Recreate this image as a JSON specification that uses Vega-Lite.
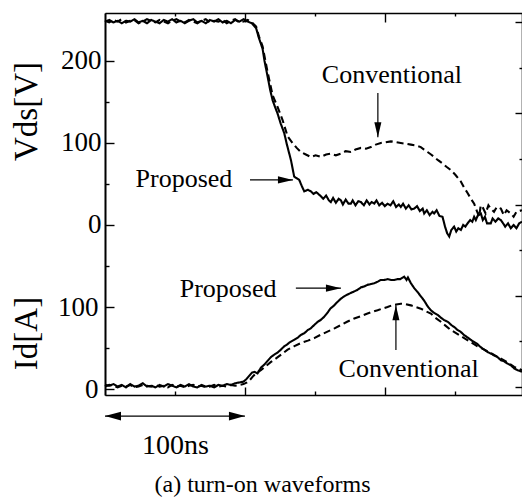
{
  "$schema": "https://vega.github.io/schema/vega-lite/v6.json",
  "width": 417,
  "height": 382,
  "autosize": {"type": "none"},
  "padding": {"left": 105, "top": 13, "right": 0, "bottom": 102},
  "background": "white",
  "config": {
    "view": {"stroke": null},
    "font": "Liberation Serif",
    "axis": {
      "grid": false,
      "domainColor": "#000",
      "domainWidth": 1.6,
      "tickColor": "#000",
      "tickWidth": 1.4,
      "labelColor": "#000",
      "titleColor": "#000",
      "labelFont": "Liberation Serif",
      "titleFont": "Liberation Serif",
      "labelFontSize": 27,
      "titleFontWeight": "normal"
    }
  },
  "title": {
    "text": "(a) turn-on waveforms",
    "orient": "bottom",
    "anchor": "middle",
    "frame": "group",
    "dx": -51,
    "offset": 14,
    "font": "Liberation Serif",
    "fontSize": 24,
    "fontWeight": "normal",
    "color": "#000"
  },
  "datasets": {
    "vds": [
      {"s":"Proposed","t":0,"v":248},{"s":"Proposed","t":3,"v":250},{"s":"Proposed","t":6,"v":247},{"s":"Proposed","t":9,"v":249},{"s":"Proposed","t":12,"v":246},{"s":"Proposed","t":15,"v":249},{"s":"Proposed","t":18,"v":248},{"s":"Proposed","t":21,"v":251},{"s":"Proposed","t":24,"v":247},{"s":"Proposed","t":27,"v":249},{"s":"Proposed","t":30,"v":246},{"s":"Proposed","t":33,"v":250},{"s":"Proposed","t":36,"v":248},{"s":"Proposed","t":39,"v":246},{"s":"Proposed","t":42,"v":250},{"s":"Proposed","t":45,"v":248},{"s":"Proposed","t":48,"v":251},{"s":"Proposed","t":51,"v":247},{"s":"Proposed","t":54,"v":249},{"s":"Proposed","t":57,"v":246},{"s":"Proposed","t":60,"v":249},{"s":"Proposed","t":63,"v":251},{"s":"Proposed","t":66,"v":247},{"s":"Proposed","t":69,"v":249},{"s":"Proposed","t":72,"v":246},{"s":"Proposed","t":75,"v":250},{"s":"Proposed","t":78,"v":248},{"s":"Proposed","t":81,"v":251},{"s":"Proposed","t":84,"v":247},{"s":"Proposed","t":87,"v":249},{"s":"Proposed","t":90,"v":246},{"s":"Proposed","t":93,"v":250},{"s":"Proposed","t":96,"v":248},{"s":"Proposed","t":99,"v":251},{"s":"Proposed","t":102,"v":248},{"s":"Proposed","t":105,"v":246},
      {"s":"Proposed","t":108,"v":240},{"s":"Proposed","t":110,"v":228},{"s":"Proposed","t":112.6,"v":215},{"s":"Proposed","t":114,"v":200},{"s":"Proposed","t":116.2,"v":181},{"s":"Proposed","t":118,"v":165},{"s":"Proposed","t":119.8,"v":152},{"s":"Proposed","t":121.5,"v":144},{"s":"Proposed","t":123.3,"v":136},{"s":"Proposed","t":125.5,"v":124},{"s":"Proposed","t":128.1,"v":112},{"s":"Proposed","t":130,"v":98},{"s":"Proposed","t":132.9,"v":79},{"s":"Proposed","t":135.2,"v":59},{"s":"Proposed","t":137,"v":57},{"s":"Proposed","t":138.8,"v":55},{"s":"Proposed","t":140.5,"v":48},{"s":"Proposed","t":142.4,"v":41},{"s":"Proposed","t":145,"v":43},{"s":"Proposed","t":147.1,"v":41},{"s":"Proposed","t":149,"v":38},{"s":"Proposed","t":151,"v":40},{"s":"Proposed","t":154.3,"v":35},{"s":"Proposed","t":156,"v":32},{"s":"Proposed","t":158,"v":36},{"s":"Proposed","t":160,"v":30},{"s":"Proposed","t":161.4,"v":28},{"s":"Proposed","t":163,"v":33},{"s":"Proposed","t":165,"v":27},{"s":"Proposed","t":167,"v":32},{"s":"Proposed","t":168.6,"v":30},{"s":"Proposed","t":170,"v":25},{"s":"Proposed","t":172,"v":31},{"s":"Proposed","t":174,"v":26},{"s":"Proposed","t":175.7,"v":26},{"s":"Proposed","t":177,"v":30},{"s":"Proposed","t":179,"v":24},{"s":"Proposed","t":181,"v":29},{"s":"Proposed","t":182.9,"v":28},{"s":"Proposed","t":185,"v":24},{"s":"Proposed","t":187,"v":30},{"s":"Proposed","t":189,"v":25},{"s":"Proposed","t":190.5,"v":28},{"s":"Proposed","t":192.4,"v":26},{"s":"Proposed","t":194,"v":30},{"s":"Proposed","t":196,"v":24},{"s":"Proposed","t":198,"v":27},{"s":"Proposed","t":200,"v":23},{"s":"Proposed","t":201.9,"v":26},{"s":"Proposed","t":204,"v":24},{"s":"Proposed","t":206,"v":29},{"s":"Proposed","t":208,"v":22},{"s":"Proposed","t":210,"v":25},{"s":"Proposed","t":211.4,"v":22},{"s":"Proposed","t":213,"v":26},{"s":"Proposed","t":215,"v":20},{"s":"Proposed","t":217,"v":24},{"s":"Proposed","t":219,"v":19},{"s":"Proposed","t":221,"v":20},{"s":"Proposed","t":223,"v":23},{"s":"Proposed","t":225,"v":17},{"s":"Proposed","t":227,"v":20},{"s":"Proposed","t":228.1,"v":14},{"s":"Proposed","t":230,"v":18},{"s":"Proposed","t":232,"v":12},{"s":"Proposed","t":234,"v":16},{"s":"Proposed","t":235.2,"v":14},{"s":"Proposed","t":237,"v":18},{"s":"Proposed","t":239,"v":11},{"s":"Proposed","t":241.2,"v":10},{"s":"Proposed","t":243,"v":-2},{"s":"Proposed","t":244.5,"v":-10},{"s":"Proposed","t":246,"v":-14},{"s":"Proposed","t":247.5,"v":-6},{"s":"Proposed","t":249.5,"v":-2},{"s":"Proposed","t":251,"v":-8},{"s":"Proposed","t":252.5,"v":-4},{"s":"Proposed","t":254.3,"v":-6},{"s":"Proposed","t":256,"v":0},{"s":"Proposed","t":257.5,"v":-2},{"s":"Proposed","t":259.1,"v":2},{"s":"Proposed","t":261,"v":6},{"s":"Proposed","t":262.5,"v":4},{"s":"Proposed","t":263.8,"v":10},{"s":"Proposed","t":265,"v":6},{"s":"Proposed","t":266.5,"v":12},{"s":"Proposed","t":268.6,"v":14},{"s":"Proposed","t":270,"v":6},{"s":"Proposed","t":271.5,"v":10},{"s":"Proposed","t":273,"v":2},{"s":"Proposed","t":275.7,"v":2},{"s":"Proposed","t":277,"v":8},{"s":"Proposed","t":279,"v":4},{"s":"Proposed","t":281,"v":8},{"s":"Proposed","t":282.9,"v":6},{"s":"Proposed","t":284.5,"v":2},{"s":"Proposed","t":286,"v":-2},{"s":"Proposed","t":288,"v":2},{"s":"Proposed","t":290,"v":-4},{"s":"Proposed","t":292,"v":0},{"s":"Proposed","t":294,"v":-4},{"s":"Proposed","t":296,"v":2},{"s":"Proposed","t":298,"v":4},
      {"s":"Conventional","t":0,"v":249},{"s":"Conventional","t":3,"v":247},{"s":"Conventional","t":6,"v":250},{"s":"Conventional","t":9,"v":248},{"s":"Conventional","t":12,"v":251},{"s":"Conventional","t":15,"v":247},{"s":"Conventional","t":18,"v":249},{"s":"Conventional","t":21,"v":250},{"s":"Conventional","t":24,"v":246},{"s":"Conventional","t":27,"v":248},{"s":"Conventional","t":30,"v":251},{"s":"Conventional","t":33,"v":249},{"s":"Conventional","t":36,"v":247},{"s":"Conventional","t":39,"v":250},{"s":"Conventional","t":42,"v":248},{"s":"Conventional","t":45,"v":246},{"s":"Conventional","t":48,"v":249},{"s":"Conventional","t":51,"v":251},{"s":"Conventional","t":54,"v":248},{"s":"Conventional","t":57,"v":247},{"s":"Conventional","t":60,"v":250},{"s":"Conventional","t":63,"v":248},{"s":"Conventional","t":66,"v":246},{"s":"Conventional","t":69,"v":249},{"s":"Conventional","t":72,"v":251},{"s":"Conventional","t":75,"v":247},{"s":"Conventional","t":78,"v":249},{"s":"Conventional","t":81,"v":248},{"s":"Conventional","t":84,"v":250},{"s":"Conventional","t":87,"v":246},{"s":"Conventional","t":90,"v":249},{"s":"Conventional","t":93,"v":251},{"s":"Conventional","t":96,"v":247},{"s":"Conventional","t":99,"v":248},{"s":"Conventional","t":102,"v":250},{"s":"Conventional","t":105,"v":247},
      {"s":"Conventional","t":108,"v":242},{"s":"Conventional","t":110,"v":230},{"s":"Conventional","t":112.6,"v":218},{"s":"Conventional","t":116,"v":188},{"s":"Conventional","t":119.8,"v":158},{"s":"Conventional","t":123.3,"v":144},{"s":"Conventional","t":126.9,"v":128},{"s":"Conventional","t":130.5,"v":108},{"s":"Conventional","t":134,"v":100},{"s":"Conventional","t":137,"v":94},{"s":"Conventional","t":140,"v":89},{"s":"Conventional","t":143.5,"v":86},{"s":"Conventional","t":147.1,"v":83},{"s":"Conventional","t":150.5,"v":85},{"s":"Conventional","t":154.3,"v":83},{"s":"Conventional","t":158,"v":86},{"s":"Conventional","t":161.4,"v":87},{"s":"Conventional","t":165,"v":85},{"s":"Conventional","t":168.6,"v":87},{"s":"Conventional","t":172,"v":90},{"s":"Conventional","t":175.7,"v":89},{"s":"Conventional","t":179,"v":92},{"s":"Conventional","t":182.9,"v":94},{"s":"Conventional","t":186.5,"v":93},{"s":"Conventional","t":190,"v":95},{"s":"Conventional","t":193.5,"v":98},{"s":"Conventional","t":197.1,"v":100},{"s":"Conventional","t":200.7,"v":101},{"s":"Conventional","t":204.3,"v":102},{"s":"Conventional","t":207.9,"v":101},{"s":"Conventional","t":211.4,"v":100},{"s":"Conventional","t":215,"v":99},{"s":"Conventional","t":218.6,"v":98},{"s":"Conventional","t":222,"v":97},{"s":"Conventional","t":225.7,"v":95},{"s":"Conventional","t":228,"v":92},{"s":"Conventional","t":230.5,"v":89},{"s":"Conventional","t":233,"v":86},{"s":"Conventional","t":235.2,"v":83},{"s":"Conventional","t":238,"v":79},{"s":"Conventional","t":241.2,"v":75},{"s":"Conventional","t":244,"v":71},{"s":"Conventional","t":247.1,"v":67},{"s":"Conventional","t":250.5,"v":61},{"s":"Conventional","t":254.3,"v":53},{"s":"Conventional","t":256.5,"v":46},{"s":"Conventional","t":259.1,"v":39},{"s":"Conventional","t":261.5,"v":32},{"s":"Conventional","t":263.8,"v":26},{"s":"Conventional","t":265.5,"v":18},{"s":"Conventional","t":267.4,"v":10},{"s":"Conventional","t":268.5,"v":24},{"s":"Conventional","t":269.8,"v":22},{"s":"Conventional","t":272,"v":14},{"s":"Conventional","t":274,"v":24},{"s":"Conventional","t":275.7,"v":20},{"s":"Conventional","t":278,"v":16},{"s":"Conventional","t":280,"v":22},{"s":"Conventional","t":282.9,"v":20},{"s":"Conventional","t":285,"v":12},{"s":"Conventional","t":287,"v":18},{"s":"Conventional","t":290,"v":14},{"s":"Conventional","t":292,"v":10},{"s":"Conventional","t":294,"v":16},{"s":"Conventional","t":298,"v":18}
    ],
    "id": [
      {"s":"Proposed","t":0,"a":5},{"s":"Proposed","t":3,"a":4},{"s":"Proposed","t":6,"a":6},{"s":"Proposed","t":9,"a":3},{"s":"Proposed","t":12,"a":5},{"s":"Proposed","t":15,"a":2},{"s":"Proposed","t":18,"a":6},{"s":"Proposed","t":21,"a":3},{"s":"Proposed","t":24,"a":4},{"s":"Proposed","t":27,"a":7},{"s":"Proposed","t":30,"a":3},{"s":"Proposed","t":33,"a":4},{"s":"Proposed","t":36,"a":2},{"s":"Proposed","t":39,"a":5},{"s":"Proposed","t":42,"a":3},{"s":"Proposed","t":45,"a":6},{"s":"Proposed","t":48,"a":4},{"s":"Proposed","t":51,"a":2},{"s":"Proposed","t":54,"a":5},{"s":"Proposed","t":57,"a":3},{"s":"Proposed","t":60,"a":6},{"s":"Proposed","t":63,"a":3},{"s":"Proposed","t":66,"a":2},{"s":"Proposed","t":69,"a":5},{"s":"Proposed","t":72,"a":3},{"s":"Proposed","t":75,"a":4},{"s":"Proposed","t":78,"a":2},{"s":"Proposed","t":81,"a":5},{"s":"Proposed","t":84,"a":4},{"s":"Proposed","t":87,"a":6},{"s":"Proposed","t":90,"a":5},{"s":"Proposed","t":93,"a":7},{"s":"Proposed","t":96,"a":8},{"s":"Proposed","t":99,"a":9},
      {"s":"Proposed","t":101,"a":12},{"s":"Proposed","t":103,"a":16},{"s":"Proposed","t":105,"a":20},{"s":"Proposed","t":107,"a":21},{"s":"Proposed","t":109,"a":19},{"s":"Proposed","t":111.4,"a":26},{"s":"Proposed","t":114,"a":30},{"s":"Proposed","t":116,"a":34},{"s":"Proposed","t":118.6,"a":39},{"s":"Proposed","t":121,"a":42},{"s":"Proposed","t":123,"a":44},{"s":"Proposed","t":125.7,"a":48},{"s":"Proposed","t":128,"a":52},{"s":"Proposed","t":130,"a":54},{"s":"Proposed","t":132,"a":57},{"s":"Proposed","t":135.2,"a":60},{"s":"Proposed","t":138,"a":63},{"s":"Proposed","t":140,"a":66},{"s":"Proposed","t":142.4,"a":68},{"s":"Proposed","t":145,"a":72},{"s":"Proposed","t":147,"a":74},{"s":"Proposed","t":149.5,"a":78},{"s":"Proposed","t":152,"a":82},{"s":"Proposed","t":154,"a":84},{"s":"Proposed","t":156.6,"a":88},{"s":"Proposed","t":159,"a":93},{"s":"Proposed","t":161,"a":98},{"s":"Proposed","t":163.8,"a":102},{"s":"Proposed","t":166,"a":106},{"s":"Proposed","t":168.5,"a":110},{"s":"Proposed","t":170.9,"a":113},{"s":"Proposed","t":173,"a":115},{"s":"Proposed","t":175.5,"a":117},{"s":"Proposed","t":178.1,"a":119},{"s":"Proposed","t":180.5,"a":121},{"s":"Proposed","t":183,"a":124},{"s":"Proposed","t":185.2,"a":125},{"s":"Proposed","t":187.5,"a":127},{"s":"Proposed","t":190,"a":128},{"s":"Proposed","t":192.4,"a":129},{"s":"Proposed","t":195,"a":131},{"s":"Proposed","t":197,"a":133},{"s":"Proposed","t":199.5,"a":133},{"s":"Proposed","t":202,"a":134},{"s":"Proposed","t":204.5,"a":133},{"s":"Proposed","t":206.6,"a":133},{"s":"Proposed","t":209,"a":134},{"s":"Proposed","t":211,"a":134},{"s":"Proposed","t":213.8,"a":137},{"s":"Proposed","t":215.5,"a":133},{"s":"Proposed","t":216.5,"a":136},{"s":"Proposed","t":218.6,"a":129},{"s":"Proposed","t":221,"a":123},{"s":"Proposed","t":223.5,"a":118},{"s":"Proposed","t":225.7,"a":113},{"s":"Proposed","t":228,"a":108},{"s":"Proposed","t":230.5,"a":101},{"s":"Proposed","t":232.9,"a":96},{"s":"Proposed","t":235,"a":93},{"s":"Proposed","t":238,"a":90},{"s":"Proposed","t":240,"a":87},{"s":"Proposed","t":242.4,"a":84},{"s":"Proposed","t":245,"a":82},{"s":"Proposed","t":247.5,"a":78},{"s":"Proposed","t":250,"a":75},{"s":"Proposed","t":251.9,"a":72},{"s":"Proposed","t":254,"a":70},{"s":"Proposed","t":256.5,"a":66},{"s":"Proposed","t":259,"a":63},{"s":"Proposed","t":261.4,"a":60},{"s":"Proposed","t":264,"a":57},{"s":"Proposed","t":266,"a":55},{"s":"Proposed","t":268.5,"a":51},{"s":"Proposed","t":271,"a":48},{"s":"Proposed","t":273.5,"a":45},{"s":"Proposed","t":276,"a":43},{"s":"Proposed","t":278,"a":41},{"s":"Proposed","t":280.5,"a":39},{"s":"Proposed","t":283,"a":35},{"s":"Proposed","t":285,"a":34},{"s":"Proposed","t":287.6,"a":31},{"s":"Proposed","t":290,"a":29},{"s":"Proposed","t":292.5,"a":25},{"s":"Proposed","t":294.8,"a":23},{"s":"Proposed","t":298,"a":21},
      {"s":"Conventional","t":0,"a":3},{"s":"Conventional","t":3,"a":5},{"s":"Conventional","t":6,"a":4},{"s":"Conventional","t":9,"a":2},{"s":"Conventional","t":12,"a":4},{"s":"Conventional","t":15,"a":3},{"s":"Conventional","t":18,"a":5},{"s":"Conventional","t":21,"a":2},{"s":"Conventional","t":24,"a":3},{"s":"Conventional","t":27,"a":5},{"s":"Conventional","t":30,"a":4},{"s":"Conventional","t":33,"a":3},{"s":"Conventional","t":36,"a":5},{"s":"Conventional","t":39,"a":3},{"s":"Conventional","t":42,"a":4},{"s":"Conventional","t":45,"a":2},{"s":"Conventional","t":48,"a":5},{"s":"Conventional","t":51,"a":3},{"s":"Conventional","t":54,"a":4},{"s":"Conventional","t":57,"a":2},{"s":"Conventional","t":60,"a":4},{"s":"Conventional","t":63,"a":5},{"s":"Conventional","t":66,"a":3},{"s":"Conventional","t":69,"a":4},{"s":"Conventional","t":72,"a":2},{"s":"Conventional","t":75,"a":3},{"s":"Conventional","t":78,"a":5},{"s":"Conventional","t":81,"a":3},{"s":"Conventional","t":84,"a":4},{"s":"Conventional","t":87,"a":3},{"s":"Conventional","t":90,"a":5},{"s":"Conventional","t":93,"a":4},{"s":"Conventional","t":96,"a":5},{"s":"Conventional","t":99,"a":6},
      {"s":"Conventional","t":101.5,"a":8},{"s":"Conventional","t":103,"a":10},{"s":"Conventional","t":106,"a":16},{"s":"Conventional","t":108.5,"a":20},{"s":"Conventional","t":111.4,"a":23},{"s":"Conventional","t":115,"a":28},{"s":"Conventional","t":118.6,"a":33},{"s":"Conventional","t":122,"a":37},{"s":"Conventional","t":126,"a":42},{"s":"Conventional","t":130.5,"a":48},{"s":"Conventional","t":135,"a":52},{"s":"Conventional","t":140,"a":56},{"s":"Conventional","t":145,"a":59},{"s":"Conventional","t":149.5,"a":62},{"s":"Conventional","t":154,"a":66},{"s":"Conventional","t":159,"a":70},{"s":"Conventional","t":164,"a":74},{"s":"Conventional","t":168.6,"a":78},{"s":"Conventional","t":173,"a":82},{"s":"Conventional","t":178.1,"a":86},{"s":"Conventional","t":183,"a":89},{"s":"Conventional","t":187.6,"a":92},{"s":"Conventional","t":191,"a":94},{"s":"Conventional","t":194.8,"a":96},{"s":"Conventional","t":198,"a":98},{"s":"Conventional","t":201.9,"a":100},{"s":"Conventional","t":205,"a":102},{"s":"Conventional","t":208,"a":103},{"s":"Conventional","t":211.4,"a":104},{"s":"Conventional","t":215,"a":103.5},{"s":"Conventional","t":218.6,"a":102},{"s":"Conventional","t":222,"a":100},{"s":"Conventional","t":225.7,"a":98},{"s":"Conventional","t":229,"a":95},{"s":"Conventional","t":232.9,"a":92},{"s":"Conventional","t":236,"a":87},{"s":"Conventional","t":240,"a":82},{"s":"Conventional","t":243.5,"a":77},{"s":"Conventional","t":247.1,"a":72},{"s":"Conventional","t":252,"a":67},{"s":"Conventional","t":256.7,"a":62},{"s":"Conventional","t":261.5,"a":57},{"s":"Conventional","t":266.2,"a":52},{"s":"Conventional","t":271,"a":48},{"s":"Conventional","t":275.7,"a":44},{"s":"Conventional","t":280.5,"a":39},{"s":"Conventional","t":285.2,"a":35},{"s":"Conventional","t":289,"a":31},{"s":"Conventional","t":292.4,"a":27},{"s":"Conventional","t":295,"a":25},{"s":"Conventional","t":298,"a":23}
    ],
    "vdsNotes": [
      {"label": "Conventional", "t": 205, "v": 173},
      {"label": "Proposed", "t": 56.4, "v": 46}
    ],
    "vdsArrows": [
      {"t": 195, "v": 161, "t2": 195, "v2": 107},
      {"t": 103.6, "v": 55, "t2": 134.3, "v2": 55}
    ],
    "vdsHeadDown": [{"t": 195, "v": 107}],
    "vdsHeadRight": [{"t": 134.3, "v": 55}],
    "idNotes": [
      {"label": "Proposed", "t": 88, "a": 112},
      {"label": "Conventional", "t": 217, "a": 14.6}
    ],
    "idArrows": [
      {"t": 136.4, "a": 123, "t2": 168.6, "a2": 123},
      {"t": 207.9, "a": 47.6, "t2": 207.9, "a2": 102}
    ],
    "idHeadRight": [{"t": 168.6, "a": 123}],
    "idHeadUp": [{"t": 207.9, "a": 102}],
    "scaleBar": [{"t": 0, "d": -0.636, "t2": 100}],
    "scaleLeft": [{"t": 0, "d": -0.636}],
    "scaleRight": [{"t": 100, "d": -0.636}]
  },
  "layer": [
    {
      "encoding": {
        "x": {
          "field": "t", "type": "quantitative",
          "scale": {"domain": [0, 298], "nice": false, "zero": false},
          "axis": {
            "orient": "bottom",
            "values": [50, 100, 150, 200, 250],
            "labels": false,
            "tickSize": {"condition": {"test": "datum.value % 100 === 0", "value": -8}, "value": -4},
            "title": "100ns",
            "titleFontSize": 28,
            "titleX": 70,
            "titleY": 58,
            "titleAlign": "center",
            "titleBaseline": "alphabetic",
            "titleAngle": 0
          }
        },
        "y": {
          "field": "v", "type": "quantitative",
          "scale": {"domain": [-207.3, 258.5], "nice": false, "zero": false},
          "axis": {
            "orient": "left",
            "values": [0, 50, 100, 150, 200],
            "labelExpr": "datum.value % 100 === 0 ? datum.label : ''",
            "tickSize": {"condition": {"test": "datum.value % 100 === 0", "value": -9}, "value": -4},
            "labelPadding": 13,
            "title": "Vds[V]",
            "titleFontSize": 33,
            "titleX": -79,
            "titleY": 98,
            "titleAngle": -90,
            "titleAlign": "center",
            "titleBaseline": "middle"
          }
        }
      },
      "layer": [
        {
          "data": {"name": "vds"},
          "mark": {"type": "line", "color": "#000", "strokeWidth": 2.1},
          "encoding": {
            "strokeDash": {"field": "s", "type": "nominal", "scale": {"domain": ["Proposed", "Conventional"], "range": [[1, 0], [7, 4]]}, "legend": null}
          }
        },
        {
          "data": {"name": "vdsNotes"},
          "mark": {"type": "text", "font": "Liberation Serif", "fontSize": 26, "align": "center", "baseline": "alphabetic", "color": "#000"},
          "encoding": {"text": {"field": "label"}}
        },
        {
          "data": {"name": "vdsArrows"},
          "mark": {"type": "rule", "color": "#000", "strokeWidth": 1.2},
          "encoding": {"x2": {"field": "t2"}, "y2": {"field": "v2"}}
        },
        {
          "data": {"name": "vdsHeadDown"},
          "mark": {"type": "point", "shape": "M0,0L-0.47,-2L0.47,-2Z", "size": 225, "filled": true, "opacity": 1, "color": "#000"}
        },
        {
          "data": {"name": "vdsHeadRight"},
          "mark": {"type": "point", "shape": "M0,0L-2,-0.47L-2,0.47Z", "size": 225, "filled": true, "opacity": 1, "color": "#000"}
        }
      ]
    },
    {
      "encoding": {
        "x": {"field": "t", "type": "quantitative", "scale": {"domain": [0, 298], "nice": false, "zero": false}, "axis": null},
        "y": {
          "field": "a", "type": "quantitative",
          "scale": {"domain": [-7.3, 458.5], "nice": false, "zero": false},
          "axis": {
            "orient": "left",
            "values": [0, 50, 100, 150],
            "labelExpr": "datum.value % 100 === 0 ? datum.label : ''",
            "tickSize": {"condition": {"test": "datum.value % 100 === 0", "value": -9}, "value": -4},
            "labelPadding": 16,
            "title": "Id[A]",
            "titleFontSize": 33,
            "titleX": -79,
            "titleY": 320,
            "titleAngle": -90,
            "titleAlign": "center",
            "titleBaseline": "middle"
          }
        }
      },
      "layer": [
        {
          "data": {"name": "id"},
          "mark": {"type": "line", "color": "#000", "strokeWidth": 2.1},
          "encoding": {
            "strokeDash": {"field": "s", "type": "nominal", "scale": {"domain": ["Proposed", "Conventional"], "range": [[1, 0], [7, 4]]}, "legend": null}
          }
        },
        {
          "data": {"name": "idNotes"},
          "mark": {"type": "text", "font": "Liberation Serif", "fontSize": 26, "align": "center", "baseline": "alphabetic", "color": "#000"},
          "encoding": {"text": {"field": "label"}}
        },
        {
          "data": {"name": "idArrows"},
          "mark": {"type": "rule", "color": "#000", "strokeWidth": 1.2},
          "encoding": {"x2": {"field": "t2"}, "y2": {"field": "a2"}}
        },
        {
          "data": {"name": "idHeadRight"},
          "mark": {"type": "point", "shape": "M0,0L-2,-0.47L-2,0.47Z", "size": 225, "filled": true, "opacity": 1, "color": "#000"}
        },
        {
          "data": {"name": "idHeadUp"},
          "mark": {"type": "point", "shape": "M0,0L-0.47,2L0.47,2Z", "size": 225, "filled": true, "opacity": 1, "color": "#000"}
        }
      ]
    },
    {
      "encoding": {
        "x": {
          "field": "t", "type": "quantitative",
          "scale": {"domain": [0, 298], "nice": false, "zero": false},
          "axis": {
            "orient": "top",
            "values": [50, 100, 150, 200, 250],
            "labels": false,
            "title": null,
            "tickSize": {"condition": {"test": "datum.value % 100 === 0", "value": -9}, "value": -3}
          }
        },
        "y": {
          "field": "d", "type": "quantitative",
          "scale": {"domain": [-0.175, 8.197], "nice": false, "zero": false},
          "axis": {
            "orient": "right",
            "values": [0, 1, 2, 3, 4, 5, 6, 7, 8],
            "labels": false,
            "title": null,
            "tickSize": {"condition": {"test": "datum.value % 2 === 0", "value": -7}, "value": -3}
          }
        }
      },
      "layer": [
        {
          "data": {"name": "scaleBar"},
          "mark": {"type": "rule", "color": "#000", "strokeWidth": 1.3},
          "encoding": {"x2": {"field": "t2"}}
        },
        {
          "data": {"name": "scaleLeft"},
          "mark": {"type": "point", "shape": "M0,0L2,-0.55L2,0.55Z", "size": 256, "filled": true, "opacity": 1, "color": "#000"}
        },
        {
          "data": {"name": "scaleRight"},
          "mark": {"type": "point", "shape": "M0,0L-2,-0.55L-2,0.55Z", "size": 256, "filled": true, "opacity": 1, "color": "#000"}
        }
      ]
    }
  ],
  "resolve": {"scale": {"y": "independent"}, "axis": {"x": "independent"}}
}
